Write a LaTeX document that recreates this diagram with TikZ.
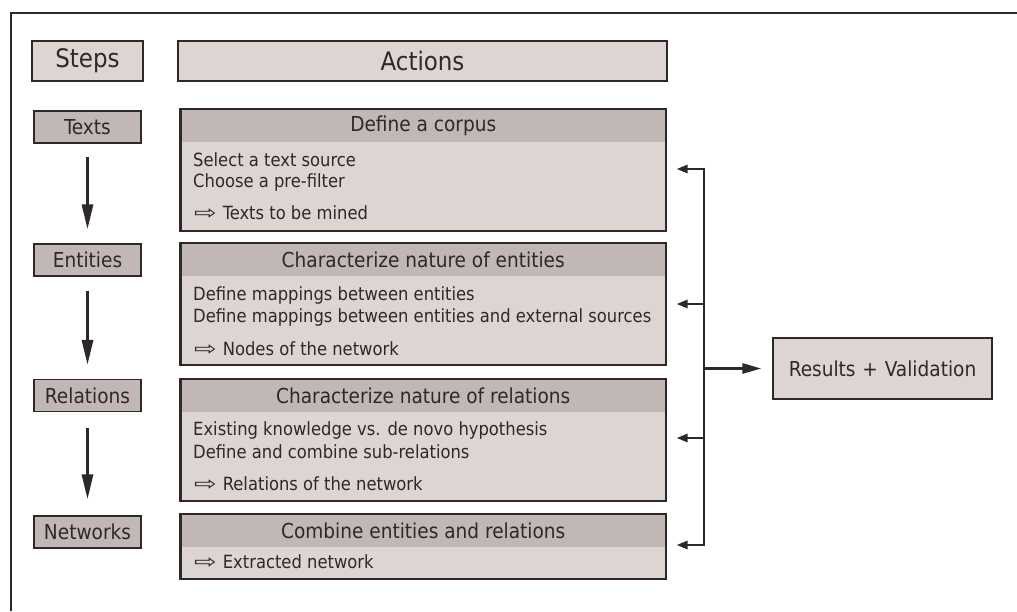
\documentclass[tikz,border=0pt]{standalone}
\usepackage{fontspec}
\setmainfont{DejaVu Sans Condensed}
\usetikzlibrary{arrows.meta,positioning}
\definecolor{boxlight}{HTML}{DCD5D2}
\definecolor{boxdark}{HTML}{C1B8B5}
\definecolor{ink}{HTML}{2E2826}
\newcommand{\hollowarrow}{\hspace{1pt}\scalebox{1.65}[1.05]{⇨}\hspace{6pt}}
\begin{document}
\begin{tikzpicture}[x=1pt,y=-1pt,
  every node/.style={text=ink, inner sep=0pt},
  titlebox/.style={draw=ink, line width=2.4pt, fill=boxlight, minimum height=40pt, font=\fontsize{25.5}{28}\selectfont},
  steplabel/.style={draw=ink, line width=1.2pt, fill=boxdark, minimum width=107pt, minimum height=32pt, font=\fontsize{20.6}{23}\selectfont},
  actionbox/.style={draw=ink, line width=1.5pt, fill=boxlight, minimum width=485pt, anchor=north west},
  header/.style={fill=boxdark, minimum width=483.5pt, minimum height=32pt, anchor=north, font=\fontsize{20.6}{23}\selectfont},
  bodytext/.style={anchor=west, font=\fontsize{18.2}{21}\selectfont},
  flowarrow/.style={draw=ink, line width=3pt, -{Triangle[length=25pt,width=11pt]}},
  busline/.style={draw=ink, line width=2.6pt},
  busarrow/.style={busline, -{Triangle[length=11pt,width=8pt]}},
]
\useasboundingbox (0,0) rectangle (1017,611);
% frame edges
\draw[ink, line width=2pt] (11,611) -- (11,13) -- (1017,13);

% column titles
\node[titlebox, minimum width=111pt] (steps) at (87.5,61) {Steps};
\node[titlebox, minimum width=489pt] (actions) at (422.5,61) {Actions};

% step labels
\node[steplabel] (texts) at (87.5,127) {Texts};
\node[steplabel] (entities) at (87.5,260) {Entities};
\node[steplabel] (relations) at (87.5,395.5) {Relations};
\node[steplabel] (networks) at (87.5,532) {Networks};

% action boxes with header strips
\node[actionbox, minimum height=121pt] (corpus) at (180,109) {};
\node[header] (corpushd) at ([yshift=-0.75pt]corpus.north) {Define a corpus};
\node[actionbox, minimum height=121pt] (ent) at (180,243) {};
\node[header] (enthd) at ([yshift=-0.75pt]ent.north) {Characterize nature of entities};
\node[actionbox, minimum height=121pt] (rel) at (180,379) {};
\node[header] (relhd) at ([yshift=-0.75pt]rel.north) {Characterize nature of relations};
\node[actionbox, minimum height=64pt] (comb) at (180,514) {};
\node[header] (combhd) at ([yshift=-0.75pt]comb.north) {Combine entities and relations};
\foreach \b in {corpus,ent,rel,comb}
  \draw[ink, line width=1.5pt] (\b.north west) rectangle (\b.south east);

% body lines
\node[bodytext] (c1) at (193,160) {Select a text source};
\node[bodytext] (c2) at (193,182) {Choose a pre-filter};
\node[bodytext] (c3) at (193,213) {\hollowarrow Texts to be mined};
\node[bodytext] (e1) at (193,295) {Define mappings between entities};
\node[bodytext] (e2) at (193,317) {Define mappings between entities and external sources};
\node[bodytext] (e3) at (193,349) {\hollowarrow Nodes of the network};
\node[bodytext] (r1) at (193,430) {Existing knowledge vs. de novo hypothesis};
\node[bodytext] (r2) at (193,452) {Define and combine sub-relations};
\node[bodytext] (r3) at (193,484) {\hollowarrow Relations of the network};
\node[bodytext] (n1) at (193,562) {\hollowarrow Extracted network};

% results
\node[draw=ink, line width=1.2pt, fill=boxlight, minimum width=219pt, minimum height=61pt,
      font=\fontsize{20.6}{23}\selectfont] (results) at (882.5,368.5) {Results\,\,+\,\,Validation};

% step flow
\draw[flowarrow] ([yshift=-13pt]texts.south) -- ([yshift=14pt]entities.north);
\draw[flowarrow] ([yshift=-14pt]entities.south) -- ([yshift=14pt]relations.north);
\draw[flowarrow] ([yshift=-16pt]relations.south) -- ([yshift=16pt]networks.north);

% feedback bus
\coordinate (b1) at (704,169);
\coordinate (b2) at (704,304);
\coordinate (b3) at (704,438);
\coordinate (b4) at (704,545);
\coordinate (bm) at (704,368.5);
\draw[busline] ([yshift=1.3pt]b1) -- ([yshift=-1.3pt]b4);
\draw[busarrow] ([xshift=1.3pt]b1) -- ([xshift=10pt]corpus.east |- b1);
\draw[busarrow] (b2) -- ([xshift=10pt]ent.east |- b2);
\draw[busarrow] (b3) -- ([xshift=10pt]rel.east |- b3);
\draw[busarrow] ([xshift=1.3pt]b4) -- ([xshift=10pt]comb.east |- b4);
\draw[busline, -{Triangle[length=19pt,width=10pt]}] (bm) -- ([xshift=-11pt]results.west);
\end{tikzpicture}
\end{document}
